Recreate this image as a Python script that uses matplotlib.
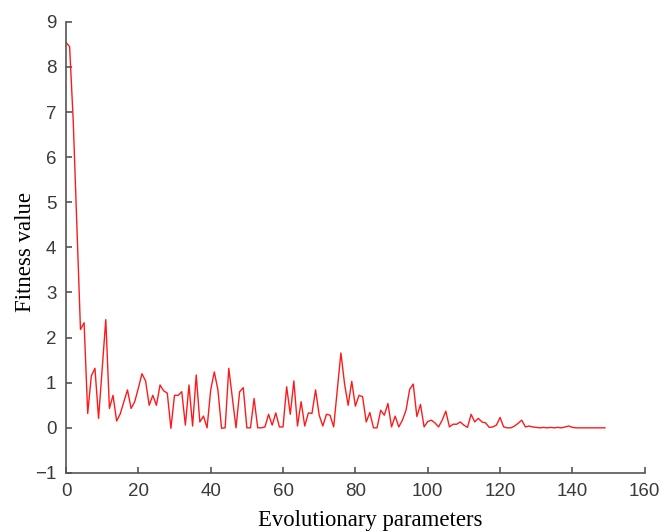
import numpy as np
import matplotlib
matplotlib.use("Agg")
import matplotlib.pyplot as plt

# fitness value for each generation of the search
fitness = [
    8.54, 8.45, 6.8, 4.5, 2.18, 2.33, 0.32, 1.15, 1.32, 0.21,
    1.30, 2.40, 0.43, 0.72, 0.15, 0.31, 0.58, 0.84, 0.43, 0.58,
    0.88, 1.20, 1.04, 0.50, 0.72, 0.50, 0.95, 0.82, 0.77, -0.01,
    0.72, 0.72, 0.80, 0.06, 0.95, 0.04, 1.17, 0.13, 0.26, 0.0,
    0.84, 1.24, 0.84, -0.01, 0.0, 1.32, 0.65, 0.0, 0.80, 0.89,
    0.0, 0.0, 0.65, 0.0, 0.0, 0.02, 0.30, 0.06, 0.33, 0.02,
    0.02, 0.91, 0.30, 1.04, 0.04, 0.58, 0.04, 0.33, 0.32, 0.84,
    0.28, 0.04, 0.30, 0.28, 0.02, 0.85, 1.66, 0.98, 0.50, 1.03,
    0.48, 0.72, 0.69, 0.13, 0.34, 0.0, 0.0, 0.39, 0.28, 0.54,
    0.02, 0.26, 0.02, 0.17, 0.39, 0.85, 0.97, 0.25, 0.52, 0.02,
    0.14, 0.17, 0.11, 0.02, 0.17, 0.37, 0.02, 0.08, 0.08, 0.13,
    0.06, 0.01, 0.30, 0.13, 0.21, 0.13, 0.11, 0.01, 0.02, 0.06,
    0.23, 0.02, 0.0, 0.0, 0.04, 0.10, 0.17, 0.02, 0.04, 0.02,
    0.01, 0.0, 0.01, 0.0, 0.01, 0.0, 0.01, 0.0, 0.02, 0.04,
    0.01, 0.0, 0.0, 0.0, 0.0, 0.0, 0.0, 0.0, 0.0, 0.0,
]
generation = np.arange(len(fitness))

x_ticks = [0, 20, 40, 60, 80, 100, 120, 140, 160]
y_ticks = [-1, 0, 1, 2, 3, 4, 5, 6, 7, 8, 9]

fig = plt.figure(figsize=(6.64, 5.32), dpi=100)
ax = fig.add_axes([0.0994, 0.111, 0.8716, 0.848])

ax.plot(generation, fitness, color="#ff1a1a", linewidth=1.0)

ax.set_xlim(0, 160)
ax.set_ylim(-1, 9)
ax.set_xticks(x_ticks)
ax.set_yticks(y_ticks)
ax.set_yticklabels([str(v).replace("-", "\u2212") for v in y_ticks])

for side in ["top", "right"]:
    ax.spines[side].set_visible(False)
for side in ["left", "bottom"]:
    ax.spines[side].set_color("#555555")
    ax.spines[side].set_linewidth(1.2)

ax.tick_params(direction="in", length=4, width=1.2, color="#555555",
               labelsize=13.5, labelcolor="#3a3a3a", pad=7)
for lab in ax.get_xticklabels() + ax.get_yticklabels():
    lab.set_family("Liberation Sans")

ax.set_xlabel("Evolutionary parameters", family="Liberation Serif", fontsize=16.4)
ax.set_ylabel("Fitness value", family="Liberation Serif", fontsize=16.4)
ax.xaxis.set_label_coords(0.525, -0.083)
ax.yaxis.set_label_coords(-0.052, 0.49)

fig.savefig("out.png", dpi=100)
